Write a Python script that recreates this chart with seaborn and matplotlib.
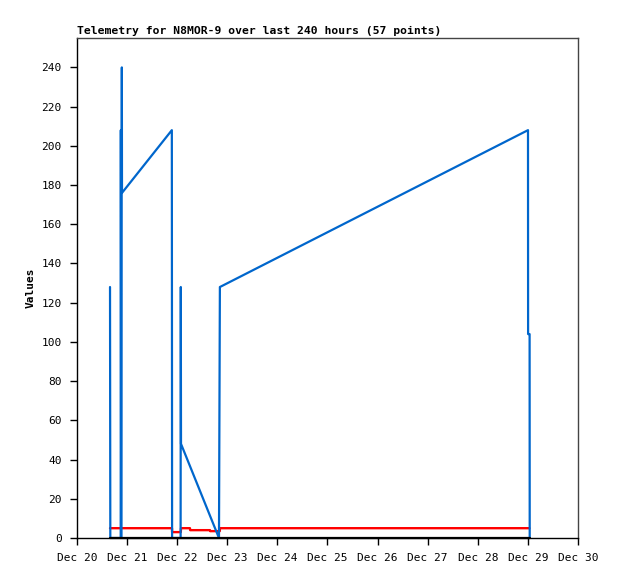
import matplotlib
matplotlib.use("Agg")
import matplotlib.pyplot as plt
import matplotlib.dates as mdates
import seaborn as sns
import pandas as pd

sns.set_style("white")
plt.rcParams['font.family'] = ['DejaVu Sans Mono']
plt.rcParams['text.color'] = 'black'
plt.rcParams['axes.labelcolor'] = 'black'
plt.rcParams['xtick.color'] = 'black'
plt.rcParams['ytick.color'] = 'black'

# time as days after Dec 20 00:00
blue_days = [0.659, 0.665, 0.872, 0.875, 0.882, 0.895, 0.898, 1.893, 1.898,
             2.068, 2.072, 2.076, 2.834, 2.852, 9.002, 9.004, 9.034, 9.036]
blue_vals = [128, 0, 0, 208, 0, 240, 176, 208, 0,
             0, 128, 48, 0, 128, 208, 104, 104, 0]

red_days = [0.659, 1.896, 1.898, 2.072, 2.076, 2.255, 2.258, 2.655, 2.658,
            2.850, 2.854, 9.030]
red_vals = [5, 5, 3, 3, 5, 5, 4, 4, 3.5, 3.5, 5, 5]

black_days = [0.659, 9.036]
black_vals = [0, 0]

start = pd.Timestamp("2023-12-20")
def to_time(days):
    return [start + pd.Timedelta(days=d) for d in days]

fig = plt.figure(figsize=(6.18, 5.79), dpi=100)
ax = fig.add_axes([77/618, 1-538/579, (578-77)/618, (538-38)/579])

sns.lineplot(x=to_time(black_days), y=black_vals, sort=False, estimator=None,
             color="black", lw=1.6, clip_on=False, zorder=5, ax=ax)
sns.lineplot(x=to_time(red_days), y=red_vals, sort=False, estimator=None,
             color="#ff0000", lw=1.7, ax=ax)
sns.lineplot(x=to_time(blue_days), y=blue_vals, sort=False, estimator=None,
             color="#0066cc", lw=1.6, ax=ax)

ax.set_xlim(start, start + pd.Timedelta(days=10))
ax.set_ylim(0, 255)
ax.set_yticks(range(0, 241, 20))
ax.xaxis.set_major_locator(mdates.DayLocator())
ax.xaxis.set_major_formatter(mdates.DateFormatter("%b %d"))

ax.tick_params(axis="both", direction="out", length=5, width=1, labelsize=8,
               bottom=True, left=True, color="black", pad=6)
for s in ["left", "bottom"]:
    ax.spines[s].set_color("black")
    ax.spines[s].set_linewidth(1)
for s in ["top", "right"]:
    ax.spines[s].set_color("#444444")
    ax.spines[s].set_linewidth(1)

ax.set_ylabel("Values", fontsize=8, fontweight="bold", labelpad=4)
ax.set_xlabel("")
ax.set_title("Telemetry for N8MOR-9 over last 240 hours (57 points)",
             loc="left", fontsize=8.2, fontweight="bold", pad=3)

fig.savefig("out.png", dpi=100)
